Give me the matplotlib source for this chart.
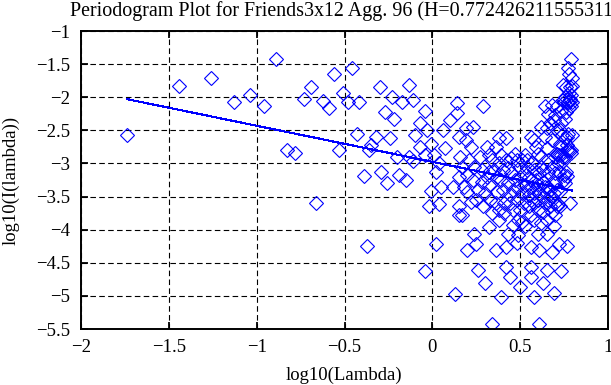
import matplotlib
matplotlib.use("Agg")
import matplotlib.pyplot as plt

# periodogram ordinates (log10 lambda, log10 I(lambda))
# low frequencies, sparse part on the left
low_x = [-1.74, -1.44, -1.26, -1.13, -1.04, -0.96, -0.89, -0.83, -0.78, -0.73,
         -0.69, -0.66, -0.62, -0.59, -0.56, -0.53, -0.51, -0.48, -0.46, -0.43,
         -0.42, -0.39, -0.37, -0.36, -0.35, -0.32, -0.30, -0.29, -0.27, -0.26,
         -0.24, -0.23, -0.22, -0.20, -0.19, -0.17, -0.15, -0.13, -0.13, -0.11,
         -0.11, -0.10, -0.07, -0.07, -0.04, -0.04, -0.04, -0.03, -0.02, -0.01,
         -0.01, 0.01, 0.02, 0.02, 0.04, 0.04]
low_y = [-2.57, -1.83, -1.71, -2.07, -1.97, -2.14, -1.43, -2.79, -2.84, -2.02,
         -1.84, -3.60, -2.06, -2.17, -1.65, -2.79, -1.94, -2.07, -1.56, -2.56,
         -2.07, -3.19, -4.25, -2.80, -2.72, -2.60, -1.84, -3.13, -2.22, -3.30,
         -2.61, -1.99, -2.33, -2.91, -3.18, -2.07, -3.25, -1.81, -2.91, -2.04,
         -2.97, -2.57, -2.39, -2.75, -2.87, -4.62, -2.21, -2.50, -3.65, -3.41,
         -2.70, -2.87, -3.13, -4.22, -3.61, -3.00]

# frequencies near 2*pi, the rising arm on the right
high_x = [0.797, 0.796, 0.794, 0.793, 0.792, 0.790, 0.789, 0.788, 0.787, 0.785,
          0.784, 0.783, 0.781, 0.780, 0.779, 0.777, 0.776, 0.775, 0.773, 0.772,
          0.771, 0.769, 0.768, 0.767, 0.765, 0.764, 0.762, 0.761, 0.760, 0.758,
          0.757, 0.756, 0.754, 0.753, 0.751, 0.748, 0.747, 0.744, 0.744, 0.741,
          0.741, 0.740, 0.735, 0.735, 0.730, 0.730, 0.730, 0.728, 0.727, 0.725,
          0.725, 0.721, 0.719, 0.719, 0.715, 0.715]
high_y = [-2.57, -1.83, -1.71, -2.07, -1.97, -2.14, -1.43, -2.79, -2.84, -2.02,
          -1.84, -3.60, -2.06, -2.17, -1.65, -2.79, -1.94, -2.07, -1.56, -2.56,
          -2.07, -3.19, -4.25, -2.80, -2.72, -2.60, -1.84, -3.13, -2.22, -3.30,
          -2.61, -1.99, -2.33, -2.91, -3.18, -2.07, -3.25, -1.81, -2.91, -2.04,
          -2.97, -2.57, -2.39, -2.75, -2.87, -4.62, -2.21, -2.50, -3.65, -3.41,
          -2.70, -2.87, -3.13, -4.22, -3.61, -3.00]

# middle band, points that could be picked out one by one
band_x = [0.05, 0.06, 0.07, 0.10, 0.12, 0.14, 0.14, 0.13, 0.15, 0.29,
          0.23, 0.19, 0.19, 0.15, 0.22, 0.31, 0.38, 0.42, 0.36, 0.39,
          0.32, 0.56, 0.58, 0.64, 0.68, 0.70, 0.67, 0.65, 0.71, 0.51,
          0.54, 0.58,
          0.20, 0.26, 0.37, 0.44, 0.22, 0.15, 0.17, 0.29, 0.34, 0.38,
          0.41, 0.50, 0.58, 0.63, 0.70, 0.56, 0.32, 0.24, 0.46, 0.51,
          0.49, 0.43, 0.20, 0.25, 0.36, 0.42, 0.56, 0.61, 0.68, 0.65,
          0.60, 0.26, 0.42, 0.44, 0.30, 0.50, 0.56, 0.56, 0.65, 0.63,
          0.69, 0.58, 0.39, 0.34, 0.61,
          0.17, 0.20, 0.15, 0.24, 0.32, 0.38, 0.43, 0.45, 0.48, 0.53,
          0.60, 0.65, 0.68, 0.70, 0.71, 0.62, 0.66, 0.70, 0.56, 0.50,
          0.39, 0.28, 0.63, 0.69, 0.60, 0.66, 0.70, 0.53, 0.32, 0.55,
          0.68]
band_y = [-3.36, -2.50, -2.77, -2.34, -3.36, -2.24, -2.08, -4.97, -3.78, -2.14,
          -2.45, -2.47, -2.65, -2.60, -2.75, -2.75, -2.62, -2.62, -2.75, -2.87,
          -2.87, -2.60, -2.65, -2.14, -2.12, -2.27, -2.39, -2.47, -2.14, -2.95,
          -3.05, -3.10,
          -3.43, -3.40, -3.43, -3.48, -3.58, -3.65, -3.78, -3.65, -3.75, -3.70,
          -3.60, -3.70, -3.60, -3.73, -3.78, -3.78, -3.96, -4.06, -3.93, -3.88,
          -4.08, -4.06, -4.31, -4.21, -4.31, -4.26, -4.26, -4.31, -4.33, -4.06,
          -4.06, -4.61, -4.56, -4.71, -4.81, -4.86, -4.71, -4.56, -4.61, -4.81,
          -4.96, -5.02, -5.02, -5.42, -5.42,
          -3.05, -3.18, -3.20, -3.05, -3.13, -3.00, -3.07, -2.92, -2.95, -2.87,
          -2.85, -2.77, -2.65, -2.47, -2.85, -3.05, -3.13, -3.15, -3.25, -3.20,
          -3.25, -3.28, -3.28, -3.28, -3.33, -3.35, -3.30, -3.33, -3.33, -3.48,
          -3.73]

# dense core, estimated (too crowded to separate)
core_x = [0.16, 0.18, 0.21, 0.23, 0.25, 0.27, 0.28, 0.30, 0.31, 0.33,
          0.34, 0.35, 0.36, 0.37, 0.38, 0.40, 0.40, 0.41, 0.42, 0.43,
          0.44, 0.45, 0.46, 0.46, 0.47, 0.47, 0.48, 0.49, 0.49, 0.48,
          0.50, 0.51, 0.52, 0.52, 0.53, 0.54, 0.54, 0.55, 0.55, 0.56,
          0.57, 0.57, 0.58, 0.58, 0.59, 0.59, 0.60, 0.60, 0.61, 0.61,
          0.62, 0.62, 0.63, 0.63, 0.64, 0.64, 0.64, 0.65, 0.65, 0.66,
          0.66, 0.67, 0.67, 0.68, 0.68, 0.69, 0.69, 0.70, 0.70, 0.71,
          0.71, 0.69, 0.66, 0.62]
core_y = [-2.90, -3.35, -2.95, -3.25, -3.55, -2.90, -3.10, -3.45, -3.20, -3.55,
          -2.95, -3.10, -3.60, -3.20, -3.85, -3.40, -3.10, -3.75, -2.95, -3.30,
          -3.60, -3.15, -3.40, -3.70, -2.85, -3.25, -3.55, -3.35, -3.85, -4.20,
          -3.05, -3.45, -3.60, -3.15, -3.95, -3.40, -2.95, -3.65, -3.20, -3.55,
          -3.35, -3.00, -3.45, -3.85, -3.25, -2.75, -3.55, -3.70, -3.15, -3.45,
          -3.90, -2.90, -3.50, -3.10, -3.60, -3.35, -2.60, -3.45, -3.85, -3.55,
          -2.95, -3.40, -3.65, -3.50, -3.05, -3.45, -3.95, -3.60, -2.90, -3.40,
          -3.65, -2.35, -2.25, -2.45]

# least squares fit, slope 1 - 2H
fit_x = [-1.736, 0.797]
fit_y = [-2.03, -3.41]

title = "Periodogram Plot for Friends3x12 Agg. 96 (H=0.772426211555311)"
xticks = [-2, -1.5, -1, -0.5, 0, 0.5, 1]
yticks = [-5.5, -5, -4.5, -4, -3.5, -3, -2.5, -2, -1.5, -1]

blue = (0, 0, 1)
plt.rcParams['font.family'] = ['Liberation Serif', 'DejaVu Serif']
plt.rcParams['font.size'] = 13.5

W, H = 611, 385
fig = plt.figure(figsize=(W / 100, H / 100), dpi=100)
ax = fig.add_axes([81 / W, 1 - 329 / H, (608 - 81) / W, (329 - 31) / H])

for xs, ys in [(low_x, low_y), (high_x, high_y), (band_x, band_y), (core_x, core_y)]:
    ax.plot(xs, ys, linestyle='none', marker='D', ms=7.1, mfc='none',
            mec=blue, mew=0.8, antialiased=False)
ax.plot(fit_x, fit_y, color=blue, lw=0.8, antialiased=False)

ax.set_xlim(-2, 1)
ax.set_ylim(-5.5, -1)
ax.set_xticks(xticks)
ax.set_yticks(yticks)
# gnuplot style labels: "%g" with a real minus sign
ax.set_xticklabels([('%g' % t).replace('-', '\u2212') for t in xticks])
ax.set_yticklabels([('%g' % t).replace('-', '\u2212') for t in yticks])
ax.grid(True, color='black', linestyle=(0, (5, 3)), linewidth=0.8)
ax.tick_params(direction='in', length=5, width=1.3, top=True, right=True)
ax.tick_params(axis='x', pad=7)
ax.tick_params(axis='y', pad=8)
for sp in ax.spines.values():
    sp.set_linewidth(1.4)

# title runs off the right edge in the original too
fig.text(70 / W, 1 - 16 / H, title, ha='left', va='baseline', fontsize=14.4)
fig.text(344 / W, 1 - 380 / H, "log10(Lambda)", ha='center', va='baseline')
fig.text(11 / W, 1 - 180 / H, "log10(I(lambda))", ha='center', va='center', rotation=90)

fig.savefig("out.png", dpi=100)
